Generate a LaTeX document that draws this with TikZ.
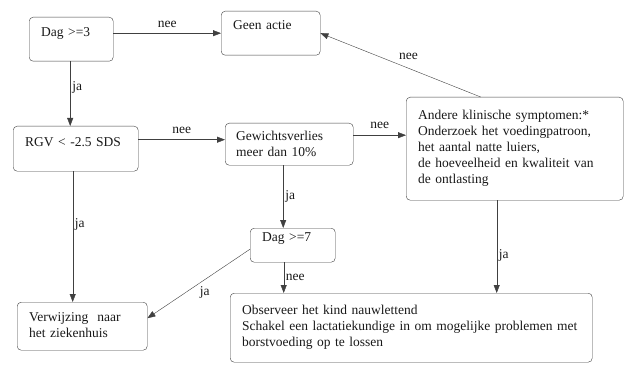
\documentclass[tikz,border=0pt]{standalone}
\usepackage{fontspec}
\setmainfont{Liberation Serif}
\usetikzlibrary{arrows.meta}

\begin{document}
\begin{tikzpicture}[x=1pt, y=-1pt,
    box/.style={draw=black!75, thin, rounded corners=4pt, anchor=north west,
      align=left, inner xsep=12pt, inner ysep=3pt, text=black!90,
      font=\fontsize{13.5}{16}\selectfont},
    lift/.style={text depth=#1},
    arr/.style={draw=black!75, thin, -{Triangle[length=8pt,width=6pt]}},
    lbl/.style={text=black!90, font=\fontsize{13.5}{16}\selectfont, inner sep=2pt}]
  \useasboundingbox (0,0) rectangle (628,366);

  % Boxes
  \node[box, lift=15pt, text width=60pt,  minimum height=44pt]  (dag3)  at (29,17)   {Dag >=3};
  \node[box, lift=17pt, text width=75pt,  minimum height=44pt]  (geen)  at (221,11)  {Geen actie};
  \node[box, lift=13pt, text width=101pt, minimum height=45pt]  (rgv)   at (13,126)  {RGV < -2.5 SDS};
  \node[box, text width=106pt, minimum height=42pt, inner xsep=11pt] (gewicht) at (225,123)
    {Gewichtsverlies\\meer dan 10\%};
  \node[box, text width=193pt, minimum height=103pt] (andere) at (406,97)
    {Andere klinische symptomen:*\\Onderzoek het voedingpatroon,\\het aantal natte luiers,\\de hoeveelheid en kwaliteit van\\de ontlasting};
  \node[box, lift=17pt, text width=61pt,  minimum height=34pt]  (dag7)  at (250,228) {Dag >=7};
  \node[box, lift=18pt, text width=106pt, minimum height=48pt]  (verw)  at (17,302)
    {Verwijzing\ \ naar\\het ziekenhuis};
  \node[box, text width=338pt, minimum height=69pt]  (obs)   at (230,293)
    {Observeer het kind nauwlettend\\Schakel een lactatiekundige in om mogelijke problemen met\\borstvoeding op te lossen};

  % Connectors
  \draw[arr] (geen.west -| dag3.east) -- node[lbl, above=3pt] {nee} (geen.west);
  \draw[arr] ([xshift=-1pt]dag3.south) -- node[lbl, right, pos=0.4] {ja} ([xshift=-1pt]dag3.south |- rgv.north);
  \draw[arr] ([yshift=9pt]rgv.east) -- node[lbl, above=4pt] {nee} ([yshift=9pt]rgv.east -| gewicht.west);
  \draw[arr] ([yshift=9pt]gewicht.east) -- node[lbl, above=4pt] {nee} ([yshift=9pt]gewicht.east -| andere.west);
  \draw[arr] ([xshift=-34pt]andere.north) -- node[lbl, pos=0.45, above=6pt] {nee} (geen.east);
  \draw[arr] ([xshift=-6pt]gewicht.south) -- node[lbl, right] {ja} ([xshift=-6pt]gewicht.south |- dag7.north);
  \draw[arr] ([xshift=-3pt]rgv.south) -- node[lbl, right, pos=0.41] {ja} ([xshift=-3pt]rgv.south |- verw.north);
  \draw[arr] ([yshift=-4pt]dag7.west) -- node[lbl, below=5pt, pos=0.44] {ja} ([yshift=8pt]verw.east);
  \draw[arr] ([xshift=-9pt]dag7.south) -- node[lbl, right] {nee} ([xshift=-9pt]dag7.south |- obs.north);
  \draw[arr] ([xshift=-18pt]andere.south) -- node[lbl, right, pos=0.6] {ja} ([xshift=-18pt]andere.south |- obs.north);
\end{tikzpicture}
\end{document}
